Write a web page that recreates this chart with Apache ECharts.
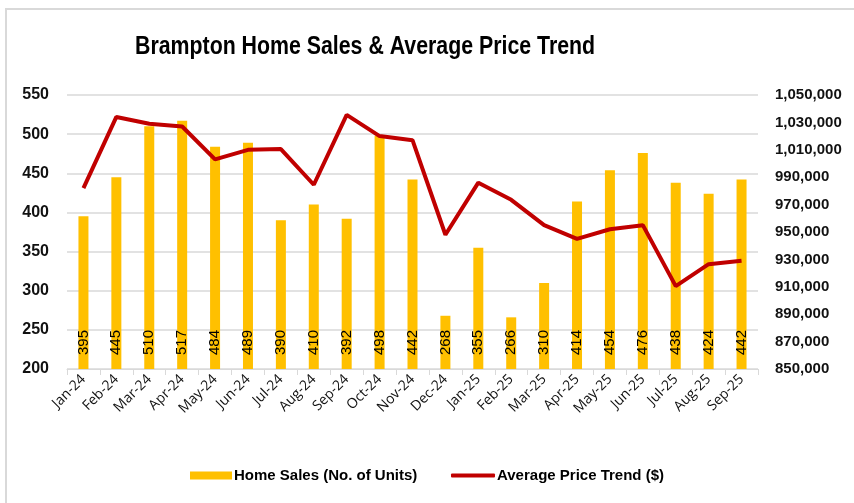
<!DOCTYPE html>
<html>
<head>
<meta charset="utf-8">
<script src="https://cdn.jsdelivr.net/npm/echarts@6/dist/echarts.min.js"></script>
<style>
  html, body { margin: 0; padding: 0; background: #fff; }
  #chart { width: 854px; height: 503px; }
</style>
</head>
<body>
<div id="chart"></div>
<script>
var months = ['Jan-24', 'Feb-24', 'Mar-24', 'Apr-24', 'May-24', 'Jun-24', 'Jul-24', 'Aug-24', 'Sep-24', 'Oct-24', 'Nov-24', 'Dec-24',
  'Jan-25', 'Feb-25', 'Mar-25', 'Apr-25', 'May-25', 'Jun-25', 'Jul-25', 'Aug-25', 'Sep-25']
var homeSales = [395, 445, 510, 517, 484, 489, 390, 410, 392, 498, 442, 268, 355, 266, 310, 414, 454, 476, 438, 424, 442]
var avgPrice = [982000, 1034000, 1029000, 1027000, 1003000, 1010000, 1010500, 984500, 1035500, 1020000, 1017000, 948000,
  986000, 973500, 955000, 945000, 952000, 955000, 910500, 926500, 929000]

var chart = echarts.init(document.getElementById('chart'))

var sans = '"Liberation Sans", Arial, sans-serif'
var legendText = {
  fontFamily: sans,
  fontSize: 15,
  fontWeight: 'bold',
  color: '#000',
  padding: [0, 0, 0, -3]
}

chart.setOption({
  animation: false,
  backgroundColor: '#fff',
  graphic: [
    {
      // outer frame
      type: 'rect',
      shape: { x: 6, y: 9, width: 900, height: 600 },
      style: { fill: 'none', stroke: '#D9D9D9', lineWidth: 2 },
      silent: true
    },
    {
      // title, squeezed to look like a narrow font
      type: 'text',
      x: 135,
      y: 34,
      scaleX: 0.82,
      style: {
        text: 'Brampton Home Sales & Average Price Trend',
        font: 'bold 26px ' + sans,
        fill: '#000'
      },
      silent: true
    }
  ],
  grid: {
    left: 67,
    right: 96,
    top: 95,
    bottom: 134
  },
  legend: [
    {
      left: 185,
      top: 463,
      itemWidth: 42,
      itemHeight: 8,
      textStyle: legendText,
      data: [{ name: 'Home Sales (No. of Units)', icon: 'rect' }]
    },
    {
      left: 446,
      top: 463,
      itemWidth: 44,
      itemHeight: 4,
      textStyle: legendText,
      data: [{ name: 'Average Price Trend ($)', icon: 'roundRect' }]
    }
  ],
  xAxis: {
    type: 'category',
    data: months,
    axisLine: { lineStyle: { color: '#D9D9D9', width: 1 } },
    axisTick: { show: true, lineStyle: { color: '#D9D9D9' }, length: 6 },
    axisLabel: {
      interval: 0,
      rotate: 45,
      fontSize: 14,
      fontFamily: '"Open Sans", "Liberation Sans", sans-serif',
      color: '#111',
      margin: 8
    }
  },
  yAxis: [
    {
      type: 'value',
      min: 200,
      max: 550,
      interval: 50,
      axisLine: { show: false },
      axisTick: { show: false },
      splitLine: { lineStyle: { color: '#D9D9D9', width: 1.5 } },
      axisLabel: {
        fontSize: 16,
        fontWeight: 'bold',
        fontFamily: sans,
        color: '#111',
        margin: 18
      }
    },
    {
      type: 'value',
      min: 850000,
      max: 1050000,
      interval: 20000,
      axisLine: { show: false },
      axisTick: { show: false },
      splitLine: { show: false },
      axisLabel: {
        fontSize: 15,
        fontWeight: 'bold',
        fontFamily: sans,
        color: '#111',
        margin: 17,
        formatter: function(v) {
          return v.toLocaleString('en-US')
        }
      }
    }
  ],
  series: [
    {
      name: 'Home Sales (No. of Units)',
      type: 'bar',
      data: homeSales,
      barWidth: 10,
      itemStyle: { color: '#FFC000' },
      label: {
        show: true,
        position: 'insideBottom',
        rotate: 90,
        align: 'left',
        verticalAlign: 'middle',
        distance: 14,
        fontSize: 15,
        fontFamily: sans,
        color: '#000'
      }
    },
    {
      name: 'Average Price Trend ($)',
      type: 'line',
      yAxisIndex: 1,
      data: avgPrice,
      symbol: 'none',
      lineStyle: { color: '#C00000', width: 4 },
      itemStyle: { color: '#C00000' }
    }
  ]
})
</script>
</body>
</html>
